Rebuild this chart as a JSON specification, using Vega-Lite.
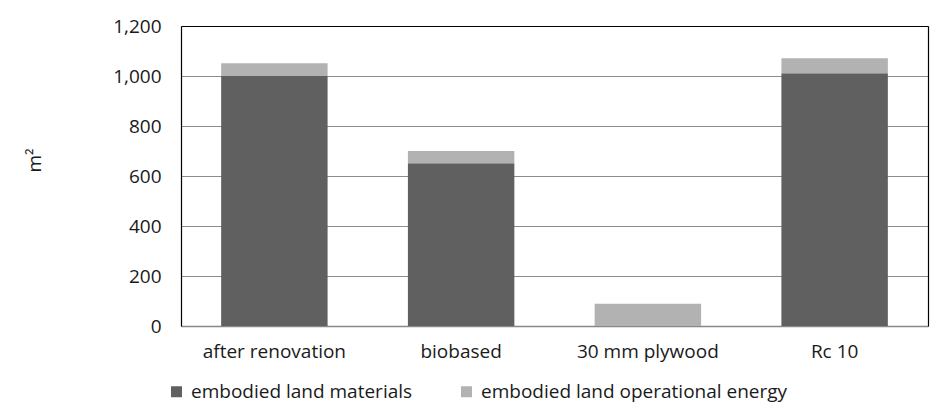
{
  "$schema": "https://vega.github.io/schema/vega-lite/v6.json",
  "width": 747,
  "height": 300,
  "autosize": "none",
  "padding": {"left": 181, "top": 26, "right": 19, "bottom": 82},
  "background": "white",
  "config": {
    "font": "Open Sans",
    "view": {"stroke": null},
    "axis": {"labelFont": "Open Sans", "titleFont": "Open Sans", "labelColor": "#1a1a1a", "titleColor": "#1a1a1a"},
    "legend": {"labelFont": "Open Sans"}
  },
  "data": {
    "values": [
      {"scenario": "after renovation", "component": "embodied land materials", "rank": 1, "value": 1000},
      {"scenario": "after renovation", "component": "embodied land operational energy", "rank": 2, "value": 51},
      {"scenario": "biobased", "component": "embodied land materials", "rank": 1, "value": 651},
      {"scenario": "biobased", "component": "embodied land operational energy", "rank": 2, "value": 49},
      {"scenario": "30 mm plywood", "component": "embodied land materials", "rank": 1, "value": 0},
      {"scenario": "30 mm plywood", "component": "embodied land operational energy", "rank": 2, "value": 89},
      {"scenario": "Rc 10", "component": "embodied land materials", "rank": 1, "value": 1011},
      {"scenario": "Rc 10", "component": "embodied land operational energy", "rank": 2, "value": 60}
    ]
  },
  "resolve": {"axis": {"x": "independent", "y": "independent"}},
  "layer": [
    {
      "mark": {"type": "bar"},
      "encoding": {
        "x": {
          "field": "scenario",
          "type": "nominal",
          "sort": ["after renovation", "biobased", "30 mm plywood", "Rc 10"],
          "scale": {"paddingInner": 0.43, "paddingOuter": 0.215},
          "axis": {
            "title": null,
            "labelAngle": 0,
            "labelFontSize": 19,
            "labelPadding": 16,
            "ticks": false,
            "domainColor": "#888888",
            "domainWidth": 1.5,
            "labelLimit": 0
          }
        },
        "y": {
          "field": "value",
          "type": "quantitative",
          "stack": "zero",
          "scale": {"domain": [0, 1200]},
          "axis": {
            "title": "m²",
            "titleFontSize": 19,
            "titleFontWeight": "normal",
            "titleX": -137,
            "titleY": 134,
            "titleAngle": -90,
            "values": [0, 200, 400, 600, 800, 1000, 1200],
            "format": ",d",
            "labelFontSize": 19,
            "labelPadding": 20,
            "ticks": false,
            "domainColor": "#000000",
            "domainWidth": 1.2,
            "grid": true,
            "gridColor": "#8c8c8c",
            "gridWidth": 1
          }
        },
        "order": {"field": "rank", "type": "quantitative", "sort": "ascending"},
        "color": {
          "field": "component",
          "type": "nominal",
          "scale": {
            "domain": ["embodied land materials", "embodied land operational energy"],
            "range": ["#606060", "#b2b2b2"]
          },
          "legend": {
            "title": null,
            "orient": "none",
            "direction": "horizontal",
            "legendX": -14,
            "legendY": 356,
            "symbolType": "square",
            "symbolSize": 121,
            "symbolStrokeWidth": 0,
            "labelFontSize": 19,
            "labelColor": "#1a1a1a",
            "labelLimit": 0,
            "columnPadding": 44,
            "labelOffset": 5
          }
        }
      }
    },
    {
      "mark": {"type": "bar", "opacity": 0},
      "encoding": {
        "x": {
          "field": "scenario",
          "type": "nominal",
          "sort": ["after renovation", "biobased", "30 mm plywood", "Rc 10"],
          "axis": {"orient": "top", "title": null, "labels": false, "ticks": false, "grid": false, "domainColor": "#000000", "domainWidth": 1.2}
        },
        "y": {
          "field": "value",
          "type": "quantitative",
          "stack": "zero",
          "axis": {"orient": "right", "title": null, "labels": false, "ticks": false, "grid": false, "domainColor": "#000000", "domainWidth": 1.2}
        },
        "order": {"field": "rank", "type": "quantitative", "sort": "ascending"}
      }
    }
  ]
}
